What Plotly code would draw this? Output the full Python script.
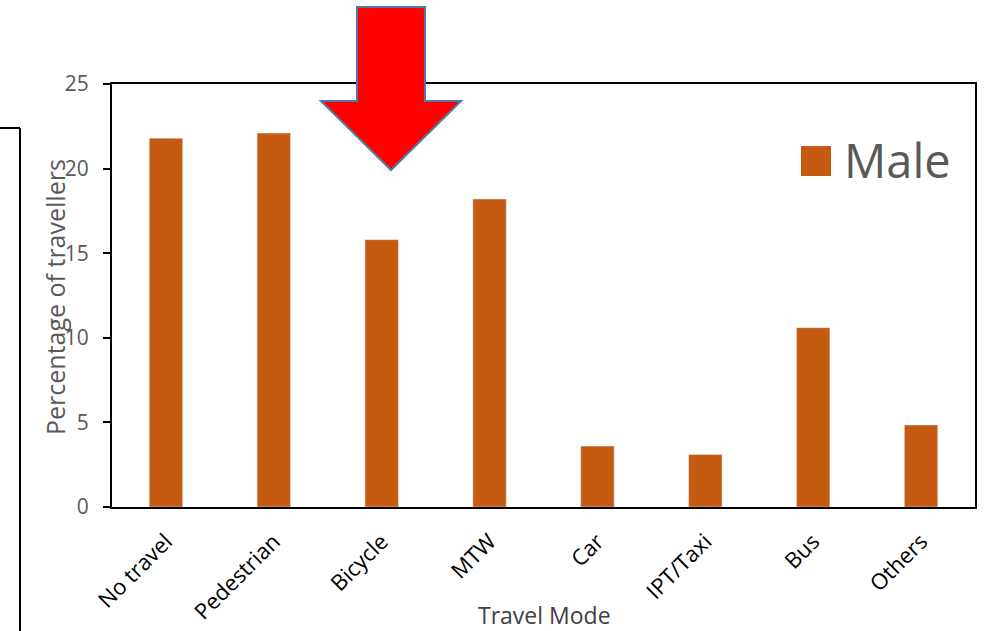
import plotly.graph_objects as go

categories = ["No travel", "Pedestrian", "Bicycle", "MTW", "Car", "IPT/Taxi", "Bus", "Others"]
male = [21.8, 22.1, 15.8, 18.2, 3.6, 3.1, 10.6, 4.85]
y_ticks = [0, 5, 10, 15, 20, 25]

L, R, T, B = 112, 975, 84, 507
W, H = 986, 631
def px(x): return (x - L) / (R - L)
def py(y): return (B - y) / (B - T)

fig = go.Figure()
fig.add_trace(go.Bar(x=categories, y=male, name="Male", marker_color="#C55A11",
                     width=0.31, showlegend=False))

# arrow path (pixel coords -> paper)
arrow_px = [(357, 7), (425, 7), (425, 101), (461, 101), (391, 170), (321, 101), (357, 101)]
path = "M " + " L ".join(f"{px(x):.4f},{py(y):.4f}" for x, y in arrow_px) + " Z"

shapes = [
    dict(type="path", xref="paper", yref="paper", path=path,
         fillcolor="#FF0000", line=dict(color="#4F7AA8", width=2), layer="above"),
    # left box fragment
    dict(type="line", xref="paper", yref="paper", x0=px(-5), x1=px(20), y0=py(128), y1=py(128),
         line=dict(color="black", width=2)),
    dict(type="line", xref="paper", yref="paper", x0=px(20), x1=px(20), y0=py(128), y1=py(640),
         line=dict(color="black", width=2)),
    # legend square
    dict(type="rect", xref="paper", yref="paper", x0=px(801), x1=px(831), y0=py(176), y1=py(146),
         fillcolor="#C55A11", line=dict(width=0)),
]

annotations = [
    dict(text="Male", xref="paper", yref="paper", x=px(842), y=py(160),
         xanchor="left", yanchor="middle", showarrow=False,
         font=dict(size=47, color="#595959", family="Open Sans")),
    dict(text="Percentage of travellers", xref="paper", yref="paper", x=px(55), y=py(297),
         xanchor="center", yanchor="middle", textangle=-90, showarrow=False,
         font=dict(size=25, color="#595959", family="Open Sans")),
    dict(text="Travel Mode", xref="paper", yref="paper", x=px(544), y=py(615),
         xanchor="center", yanchor="middle", showarrow=False,
         font=dict(size=23, color="#404040", family="Open Sans")),
]

fig.update_layout(
    width=W, height=H,
    margin=dict(l=L, r=W - R, t=T, b=H - B),
    paper_bgcolor="white", plot_bgcolor="white",
    font=dict(family="Open Sans", color="#595959"),
    shapes=shapes,
    annotations=annotations,
    bargap=0.69,
)
fig.update_xaxes(
    showline=True, linecolor="black", linewidth=2, mirror=True, automargin=False,
    tickangle=-45, tickfont=dict(size=22, color="black"), ticks="", ticklabelstandoff=11,
)
fig.update_yaxes(
    range=[0, 25], tickvals=y_ticks, showline=True, linecolor="black", linewidth=2, mirror=True,
    showgrid=False, zeroline=False, ticks="outside", ticklen=7, tickcolor="black", tickwidth=2,
    automargin=False, ticklabelstandoff=10,
    tickfont=dict(size=21, color="#595959"),
)
fig.write_html("out.html")
